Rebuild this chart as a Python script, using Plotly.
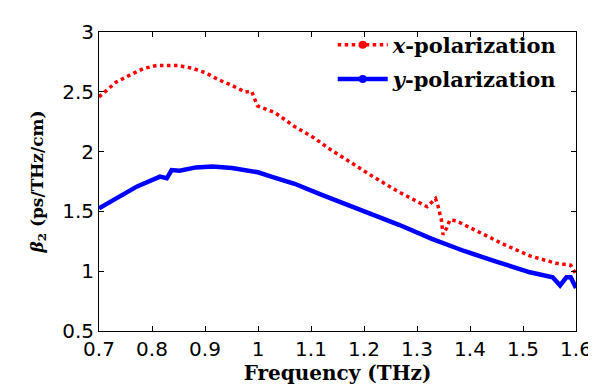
import plotly.graph_objects as go

# x-polarization (red dotted)
freq_x = [0.700, 0.732, 0.760, 0.785, 0.809, 0.830, 0.849, 0.877, 0.902, 0.926, 0.951, 0.976,
          0.988, 0.999, 1.031, 1.069, 1.106, 1.136, 1.173, 1.217, 1.266, 1.303, 1.319, 1.335,
          1.340, 1.346, 1.349, 1.356, 1.362, 1.374, 1.414, 1.464, 1.513, 1.562, 1.590, 1.596, 1.600]
beta_x = [2.457, 2.580, 2.644, 2.696, 2.720, 2.722, 2.720, 2.696, 2.657, 2.600, 2.553, 2.498,
          2.504, 2.383, 2.328, 2.210, 2.114, 2.019, 1.912, 1.791, 1.662, 1.572, 1.539, 1.607,
          1.539, 1.429, 1.306, 1.361, 1.429, 1.421, 1.333, 1.224, 1.128, 1.067, 1.051, 1.000, 0.975]

# y-polarization (blue solid)
freq_y = [0.700, 0.748, 0.772, 0.815, 0.828, 0.837, 0.852, 0.883, 0.914, 0.951, 0.982, 1.000,
          1.025, 1.069, 1.118, 1.143, 1.177, 1.204, 1.266, 1.328, 1.389, 1.451, 1.513, 1.556,
          1.570, 1.582, 1.590, 1.600]
beta_y = [1.525, 1.649, 1.709, 1.791, 1.777, 1.846, 1.840, 1.868, 1.876, 1.863, 1.846, 1.827,
          1.791, 1.731, 1.643, 1.600, 1.547, 1.497, 1.388, 1.270, 1.169, 1.078, 0.991, 0.950,
          0.881, 0.950, 0.950, 0.860]

x_ticks = [0.7, 0.8, 0.9, 1.0, 1.1, 1.2, 1.3, 1.4, 1.5, 1.6]
x_tick_labels = ["0.7", "0.8", "0.9", "1", "1.1", "1.2", "1.3", "1.4", "1.5", "1.6"]
y_ticks = [0.5, 1.0, 1.5, 2.0, 2.5, 3.0]
y_tick_labels = ["0.5", "1", "1.5", "2", "2.5", "3"]

RED = "#ff0000"
BLUE = "#0000ff"
serif = "DejaVu Serif"

fig = go.Figure()
fig.add_trace(go.Scatter(x=freq_x, y=beta_x, mode="lines", showlegend=False,
                         line=dict(color=RED, width=3.5, dash="dot")))
fig.add_trace(go.Scatter(x=freq_y, y=beta_y, mode="lines", showlegend=False,
                         line=dict(color=BLUE, width=4.5)))
# legend entries (line with marker)
fig.add_trace(go.Scatter(x=[None], y=[None], mode="lines+markers",
                         name="<b><i>x</i>-polarization</b>",
                         legendgroup="a",
                         line=dict(color=RED, width=3.5, dash="dot"),
                         marker=dict(color=RED, size=8)))
fig.add_trace(go.Scatter(x=[None], y=[None], mode="lines+markers",
                         name="<b><i>y</i>-polarization</b>",
                         legendgroup="b",
                         line=dict(color=BLUE, width=4.5),
                         marker=dict(color=BLUE, size=8)))

axis_common = dict(showline=True, linecolor="black", linewidth=1, mirror="ticks",
                   ticks="inside", ticklen=5, tickcolor="black", tickwidth=1,
                   showgrid=False, zeroline=False,
                   tickfont=dict(family="DejaVu Sans", size=20, color="black"))

fig.update_xaxes(range=[0.7, 1.6], tickvals=x_ticks, ticktext=x_tick_labels,
                 title=dict(text="<b>Frequency (THz)</b>",
                            font=dict(family=serif, size=20, color="black"), standoff=5),
                 **axis_common)
fig.update_yaxes(range=[0.5, 3.0], tickvals=y_ticks, ticktext=y_tick_labels,
                 title=dict(text="<b><i>β</i><sub>2</sub> (ps/THz/cm)</b>",
                            font=dict(family=serif, size=17, color="black"), standoff=14),
                 **axis_common)

fig.update_layout(
    width=596, height=389,
    margin=dict(l=91, r=19, t=19, b=66),
    paper_bgcolor="white", plot_bgcolor="white",
    legend=dict(x=0.49, y=1.025, xanchor="left", yanchor="top",
                bgcolor="rgba(0,0,0,0)", borderwidth=0,
                traceorder="grouped", tracegroupgap=4, itemwidth=50,
                font=dict(family=serif, size=21, color="black")),
)

fig.write_html("out.html")
